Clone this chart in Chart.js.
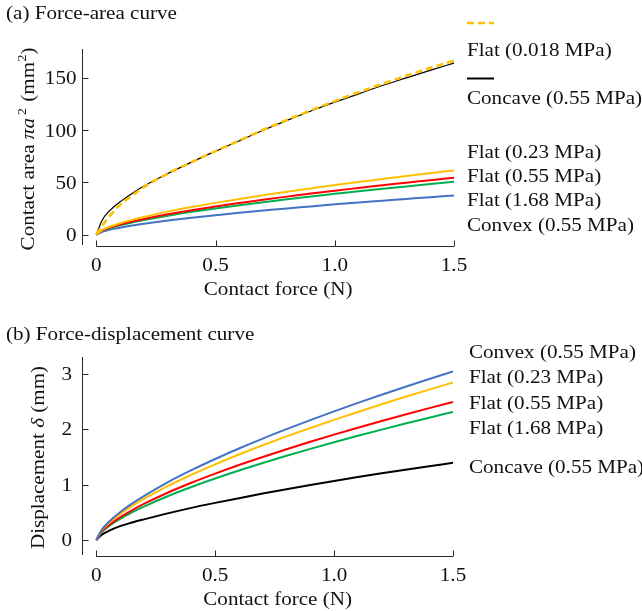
<!DOCTYPE html>
<html>
<head>
<meta charset="utf-8">
<script src="https://cdn.jsdelivr.net/npm/chart.js@4.4.1/dist/chart.umd.min.js"></script>
<style>
  body { margin: 0; background: #fff; }
  canvas { position: absolute; left: 0; }
  #areaChart { top: 0; }
  #dispChart { top: 305px; }
</style>
</head>
<body>
<canvas id="areaChart" width="642" height="305"></canvas>
<canvas id="dispChart" width="642" height="306"></canvas>
<script>
// contact force samples (N), shared by both panels
const force = [0, 0.025, 0.05, 0.1, 0.15, 0.2, 0.3, 0.4, 0.5, 0.6, 0.7, 0.8, 0.9, 1.0, 1.1, 1.2, 1.3, 1.4, 1.5];

// (a) contact area pi*a^2 (mm^2)
const areaFlat018 = [0, 8.5, 16, 28.5, 37.5, 45.5, 58.5, 69.5, 80, 90.3, 100.5, 110, 119.2, 128, 136.5, 144.6, 152.4, 159.8, 166.7];
const areaConcave = [0, 14, 21.5, 31.5, 39.5, 46.5, 58.5, 69.5, 80, 90, 100, 109.5, 118.5, 127, 135, 143, 150.3, 157.5, 164.5];
const areaFlat023 = [0, 4.5, 7.0, 10.9, 14.1, 16.9, 22.0, 26.4, 30.4, 34.2, 37.8, 41.1, 44.3, 47.5, 50.4, 53.3, 56.1, 58.9, 61.5];
const areaFlat055 = [0, 4.0, 6.2, 9.6, 12.5, 15.0, 19.5, 23.4, 27.0, 30.3, 33.5, 36.4, 39.3, 42.1, 44.7, 47.3, 49.7, 52.2, 54.5];
const areaFlat168 = [0, 3.7, 5.7, 9.0, 11.6, 13.9, 18.1, 21.8, 25.1, 28.2, 31.1, 33.9, 36.6, 39.1, 41.6, 44.0, 46.2, 48.5, 50.7];
const areaConvex = [0, 2.7, 4.3, 6.6, 8.6, 10.3, 13.4, 16.1, 18.6, 20.9, 23.0, 25.1, 27.0, 29.0, 30.8, 32.5, 34.2, 35.9, 37.5];

// (b) displacement delta (mm)
const dispConvex = [0, 0.199, 0.315, 0.500, 0.655, 0.793, 1.040, 1.259, 1.461, 1.650, 1.829, 1.999, 2.163, 2.320, 2.472, 2.620, 2.763, 2.903, 3.04];
const dispFlat023 = [0, 0.185, 0.294, 0.467, 0.612, 0.741, 0.971, 1.177, 1.365, 1.542, 1.709, 1.868, 2.020, 2.167, 2.309, 2.448, 2.582, 2.712, 2.84];
const dispFlat055 = [0, 0.163, 0.258, 0.409, 0.536, 0.650, 0.852, 1.032, 1.197, 1.352, 1.498, 1.638, 1.771, 1.900, 2.025, 2.146, 2.263, 2.378, 2.49];
const dispFlat168 = [0, 0.151, 0.239, 0.380, 0.498, 0.603, 0.790, 0.957, 1.110, 1.254, 1.390, 1.519, 1.643, 1.763, 1.879, 1.991, 2.100, 2.206, 2.31];
const dispConcave = [0, 0.100, 0.160, 0.250, 0.315, 0.372, 0.480, 0.580, 0.670, 0.755, 0.838, 0.917, 0.993, 1.066, 1.136, 1.203, 1.268, 1.331, 1.392];

const xTicks = [0, 0.5, 1.0, 1.5];
const xTickLabels = ['0', '0.5', '1.0', '1.5'];
const areaTicks = [0, 50, 100, 150];
const dispTicks = [0, 1, 2, 3];

const ORANGE = '#FFC000';
const RED = '#FF0000';
const GREEN = '#00B050';
const BLUE = '#4472C4';

const SERIF = '"Liberation Serif", "Times New Roman", serif';
const STRETCH = 1.11; // the serif glyphs are set a bit wide
const SIZE = 19;

const font = (size, italic) => (italic ? 'italic ' : '') + size + 'px ' + SERIF;
const pts = (vals) => force.map((f, i) => ({ x: f, y: vals[i] }));

function text(ctx, str, x, y, align) {
  ctx.save();
  ctx.font = font(SIZE);
  const w = ctx.measureText(str).width * STRETCH;
  let x0 = x;
  if (align === 'right') x0 = x - w;
  if (align === 'center') x0 = x - w / 2;
  ctx.translate(x0, y);
  ctx.scale(STRETCH, 1);
  ctx.textAlign = 'left';
  ctx.textBaseline = 'alphabetic';
  ctx.fillText(str, 0, 0);
  ctx.restore();
}

// pieces of mixed text: {text, italic, size, rise, gap}
function runsWidth(ctx, runs) {
  let w = 0;
  runs.forEach((r) => {
    ctx.font = font(r.size || SIZE, r.italic);
    w += ctx.measureText(r.text).width + (r.gap || 0);
  });
  return w;
}

function verticalTitle(ctx, runs, baseX, centerY) {
  ctx.save();
  ctx.translate(baseX, centerY);
  ctx.rotate(-Math.PI / 2);
  ctx.scale(STRETCH, 1);
  ctx.textAlign = 'left';
  ctx.textBaseline = 'alphabetic';
  let x = -runsWidth(ctx, runs) / 2;
  runs.forEach((r) => {
    ctx.font = font(r.size || SIZE, r.italic);
    ctx.fillText(r.text, x, -(r.rise || 0));
    x += ctx.measureText(r.text).width + (r.gap || 0);
  });
  ctx.restore();
}

// spines, ticks, labels and the side key drawn off the chart's scales
function framePlugin(cfg) {
  return {
    id: 'frame',
    afterDraw(chart) {
      const ctx = chart.ctx;
      const xs = chart.scales.x;
      const ys = chart.scales.y;
      const area = chart.chartArea;
      ctx.save();
      ctx.strokeStyle = '#2a2a2a';
      ctx.fillStyle = '#111';
      ctx.lineWidth = 1;
      ctx.setLineDash([]);

      const yx = Math.round(area.left) + 0.5;
      const ay = Math.round(area.bottom) + 1.5;
      ctx.beginPath();
      ctx.moveTo(yx, area.top);
      ctx.lineTo(yx, area.bottom);
      cfg.yTicks.forEach((v) => {
        const py = Math.round(ys.getPixelForValue(v)) + 0.5;
        ctx.moveTo(yx, py);
        ctx.lineTo(yx + 6, py);
      });
      ctx.moveTo(xs.getPixelForValue(xTicks[0]), ay);
      ctx.lineTo(xs.getPixelForValue(xTicks[xTicks.length - 1]), ay);
      xTicks.forEach((v) => {
        const px = Math.round(xs.getPixelForValue(v)) + 0.5;
        ctx.moveTo(px, ay);
        ctx.lineTo(px, ay - 6);
      });
      ctx.stroke();

      cfg.yTicks.forEach((v) => text(ctx, String(v), cfg.yLabelRight, ys.getPixelForValue(v) + 6.3, 'right'));
      xTicks.forEach((v, i) => text(ctx, xTickLabels[i], xs.getPixelForValue(v), ay + 24, 'center'));

      const midX = (xs.getPixelForValue(xTicks[0]) + xs.getPixelForValue(xTicks[xTicks.length - 1])) / 2 + 3;
      text(ctx, 'Contact force (N)', midX, ay + 48, 'center');
      text(ctx, cfg.title, 6, cfg.titleY, 'left');
      verticalTitle(ctx, cfg.yTitle, cfg.yTitleX, (area.top + area.bottom) / 2 + cfg.yTitleShift);

      (cfg.samples || []).forEach((s) => {
        ctx.beginPath();
        ctx.strokeStyle = s.color;
        ctx.lineWidth = s.width;
        ctx.setLineDash(s.dash || []);
        ctx.moveTo(cfg.keyX, s.y);
        ctx.lineTo(cfg.keyX + 27, s.y);
        ctx.stroke();
      });
      ctx.setLineDash([]);
      cfg.keys.forEach((k) => text(ctx, k.text, cfg.keyX, k.y, 'left'));
      ctx.restore();
    },
  };
}

Chart.defaults.elements.point.radius = 0;
Chart.defaults.elements.line.cubicInterpolationMode = 'monotone';

const baseOptions = (pad, yMin, yMax) => ({
  responsive: false,
  animation: false,
  layout: { padding: pad },
  scales: {
    x: { type: 'linear', min: -0.06, max: 1.5, display: false },
    y: { type: 'linear', min: yMin, max: yMax, display: false },
  },
  plugins: { legend: { display: false }, tooltip: { enabled: false } },
});

// (a) force-area
new Chart(document.getElementById('areaChart'), {
  type: 'line',
  data: {
    datasets: [
      { label: 'Flat (0.018 MPa)', data: pts(areaFlat018), borderColor: ORANGE, borderWidth: 2.6, borderDash: [7, 4] },
      { label: 'Concave (0.55 MPa)', data: pts(areaConcave), borderColor: '#000', borderWidth: 1.2 },
      { label: 'Flat (0.23 MPa)', data: pts(areaFlat023), borderColor: ORANGE, borderWidth: 2 },
      { label: 'Flat (0.55 MPa)', data: pts(areaFlat055), borderColor: RED, borderWidth: 2 },
      { label: 'Flat (1.68 MPa)', data: pts(areaFlat168), borderColor: GREEN, borderWidth: 2 },
      { label: 'Convex (0.55 MPa)', data: pts(areaConvex), borderColor: BLUE, borderWidth: 2 },
    ],
  },
  options: baseOptions({ left: 82, right: 188, top: 49, bottom: 60 }, -10, 178),
  plugins: [framePlugin({
    title: '(a) Force-area curve',
    titleY: 18.5,
    yTicks: areaTicks,
    yLabelRight: 76.5,
    yTitleX: 34,
    yTitleShift: 2,
    yTitle: [
      { text: 'Contact area ' },
      { text: 'πa', italic: true, gap: 2.5 },
      { text: '2', size: 13, rise: 8, gap: 1 },
      { text: ' (mm' },
      { text: '2', size: 13, rise: 8 },
      { text: ')' },
    ],
    keyX: 467,
    samples: [
      { y: 23, color: ORANGE, width: 2.6, dash: [7, 4] },
      { y: 78.5, color: '#000', width: 2 },
    ],
    keys: [
      { text: 'Flat (0.018 MPa)', y: 55.7 },
      { text: 'Concave (0.55 MPa)', y: 104.3 },
      { text: 'Flat (0.23 MPa)', y: 157.5 },
      { text: 'Flat (0.55 MPa)', y: 181.5 },
      { text: 'Flat (1.68 MPa)', y: 205.5 },
      { text: 'Convex (0.55 MPa)', y: 231.2 },
    ],
  })],
});

// (b) force-displacement
new Chart(document.getElementById('dispChart'), {
  type: 'line',
  data: {
    datasets: [
      { label: 'Convex (0.55 MPa)', data: pts(dispConvex), borderColor: BLUE, borderWidth: 2 },
      { label: 'Flat (0.23 MPa)', data: pts(dispFlat023), borderColor: ORANGE, borderWidth: 2 },
      { label: 'Flat (0.55 MPa)', data: pts(dispFlat055), borderColor: RED, borderWidth: 2 },
      { label: 'Flat (1.68 MPa)', data: pts(dispFlat168), borderColor: GREEN, borderWidth: 2 },
      { label: 'Concave (0.55 MPa)', data: pts(dispConcave), borderColor: '#000', borderWidth: 2 },
    ],
  },
  options: baseOptions({ left: 82, right: 189, top: 52, bottom: 56 }, -0.27, 3.3),
  plugins: [framePlugin({
    title: '(b) Force-displacement curve',
    titleY: 35,
    yTicks: dispTicks,
    yLabelRight: 72,
    yTitleX: 43.5,
    yTitleShift: 1.5,
    yTitle: [
      { text: 'Displacement ' },
      { text: 'δ', italic: true },
      { text: ' (mm)' },
    ],
    keyX: 469,
    keys: [
      { text: 'Convex (0.55 MPa)', y: 53.3 },
      { text: 'Flat (0.23 MPa)', y: 77.7 },
      { text: 'Flat (0.55 MPa)', y: 104.3 },
      { text: 'Flat (1.68 MPa)', y: 129.3 },
      { text: 'Concave (0.55 MPa)', y: 168.3 },
    ],
  })],
});
</script>
</body>
</html>
